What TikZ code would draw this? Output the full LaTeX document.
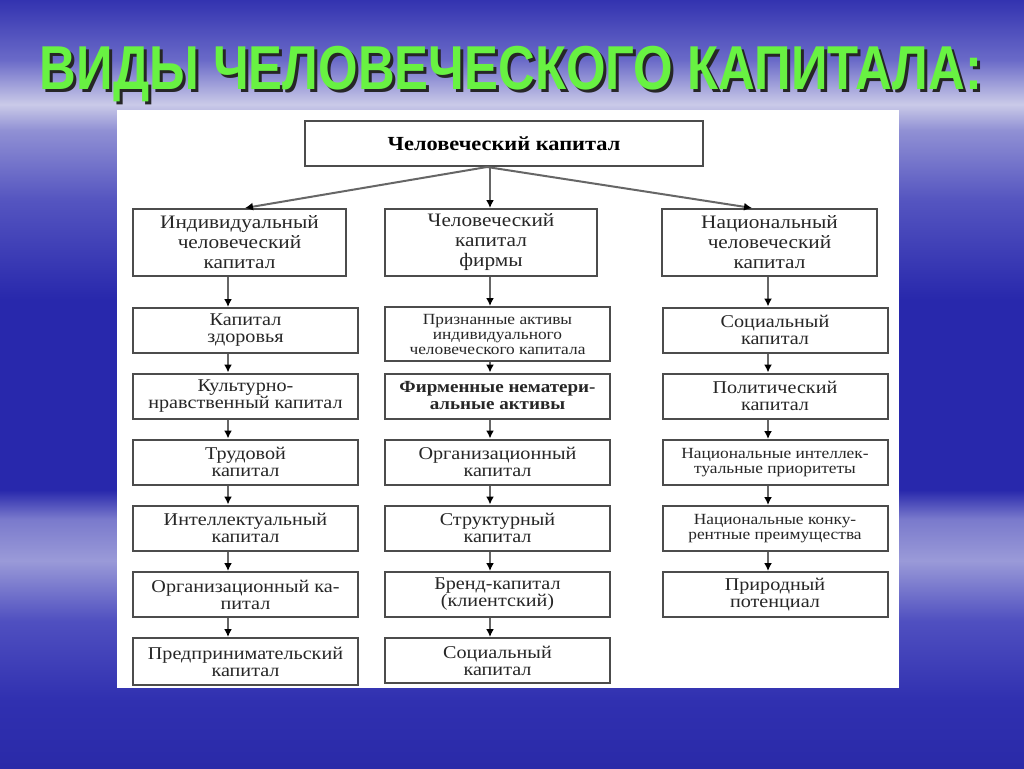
\documentclass[tikz,border=0pt]{standalone}
\usepackage{fontspec}
\setmainfont[FakeStretch=1.12]{Liberation Serif}
\newfontfamily\titlefont[FakeStretch=0.82]{Liberation Sans}
\usepackage{xcolor}
\usetikzlibrary{arrows.meta, positioning, calc}

\definecolor{titlegreen}{RGB}{104,242,66}
\definecolor{skyA}{RGB}{42,42,168}
\definecolor{skyB}{RGB}{48,48,176}
\definecolor{skyC}{RGB}{80,80,192}
\definecolor{skyD}{RGB}{154,154,216}
\definecolor{skyE}{RGB}{122,122,204}
\definecolor{skyF}{RGB}{40,40,172}
\definecolor{skyG}{RGB}{85,85,192}
\definecolor{skyH}{RGB}{144,144,212}
\definecolor{skyI}{RGB}{202,202,232}
\definecolor{skyJ}{RGB}{106,106,200}
\definecolor{skyK}{RGB}{51,51,176}
\pgfdeclareverticalshading{sky}{100bp}{color(0bp)=(skyA); color(25bp)=(skyA);
  color(29.4bp)=(skyB); color(34.6bp)=(skyC); color(38.5bp)=(skyD);
  color(41.2bp)=(skyE); color(43.1bp)=(skyF); color(55.5bp)=(skyF);
  color(62bp)=(skyG); color(66.5bp)=(skyH); color(68.2bp)=(skyI);
  color(71.1bp)=(skyJ); color(75bp)=(skyK); color(100bp)=(skyK)}

\newcommand{\shadowed}[1]{\makebox[0pt][l]{\raisebox{-3pt}{\hspace{3pt}\color{black!85}#1}}#1}

\begin{document}
\begin{tikzpicture}[x=1pt, y=-1pt,
    box/.style={draw=black!70, line width=2pt, fill=white, minimum width=225pt,
      minimum height=45pt, align=center, inner sep=1pt, text=black!85,
      font=\fontsize{18}{17}\selectfont},
    head/.style={box, minimum height=67pt, font=\fontsize{19}{20}\selectfont},
    small/.style={font=\fontsize{15.5}{15}\selectfont},
    arr/.style={draw=black!60, line width=2pt, -{Latex[length=8pt, width=8pt, black]}},
    titletext/.style={font=\titlefont\bfseries\fontsize{62}{62}\selectfont, anchor=base}
  ]
  \useasboundingbox (0,0) rectangle (1024,768);
  \shade[shading=sky] (0,0) rectangle (1024,768);

  % title
  \node[titletext, text=titlegreen] (title) at (511,89) {\shadowed{ВИДЫ ЧЕЛОВЕЧЕСКОГО КАПИТАЛА:}};

  \fill[white] (117,110) rectangle (899,688);

  \node[box, minimum width=398pt, font=\bfseries\fontsize{20}{20}\selectfont, text=black] (hc) at (504,143.5) {Человеческий капитал};

  \node[head, minimum width=213pt] (ind) at (239.5,242.5) {Индивидуальный\\человеческий\\капитал};
  \node[head, minimum width=212pt] (firm) at (491,242.5) {Человеческий\\капитал\\фирмы};
  \node[head, minimum width=215pt] (nat) at (769.5,242.5) {Национальный\\человеческий\\капитал};

  % individual
  \node[box] (ind1) at (245.5,330.5) {Капитал\\здоровья};
  \node[box] (ind2) at (245.5,396) {Культурно-\\нравственный капитал};
  \node[box] (ind3) at (245.5,462) {Трудовой\\капитал};
  \node[box] (ind4) at (245.5,528) {Интеллектуальный\\капитал};
  \node[box] (ind5) at (245.5,594.5) {Организационный ка-\\питал};
  \node[box, minimum height=47pt] (ind6) at (245.5,661.5) {Предпринимательский\\капитал};

  % firm
  \node[box, small, minimum height=54pt] (firm1) at (497.5,334) {Признанные активы\\индивидуального\\человеческого капитала};
  \node[box, font=\bfseries\fontsize{17}{17}\selectfont] (firm2) at (497.5,396) {Фирменные нематери-\\альные активы};
  \node[box] (firm3) at (497.5,462) {Организационный\\капитал};
  \node[box] (firm4) at (497.5,528) {Структурный\\капитал};
  \node[box] (firm5) at (497.5,594.5) {Бренд-капитал\\(клиентский)};
  \node[box] (firm6) at (497.5,660.5) {Социальный\\капитал};

  % national
  \node[box] (nat1) at (775,330) {Социальный\\капитал};
  \node[box] (nat2) at (775,396) {Политический\\капитал};
  \node[box, small] (nat3) at (775,462.5) {Национальные интеллек-\\туальные приоритеты};
  \node[box, small] (nat4) at (775,528.5) {Национальные конку-\\рентные преимущества};
  \node[box] (nat5) at (775,594.5) {Природный\\потенциал};

  \coordinate (indx) at (228,0);
  \coordinate (firmx) at (490,0);
  \coordinate (natx) at (768,0);

  \draw[arr] ([xshift=-17pt]hc.south) -- ([xshift=5.5pt]ind.north);
  \draw[arr] (hc.south -| firmx) -- (firm.north -| firmx);
  \draw[arr] ([xshift=-17pt]hc.south) -- ([xshift=-17.5pt]nat.north);

  \foreach \a/\b in {ind/ind1, ind1/ind2, ind2/ind3, ind3/ind4, ind4/ind5, ind5/ind6}
    \draw[arr] (\a.south -| indx) -- (\b.north -| indx);
  \foreach \a/\b in {firm/firm1, firm1/firm2, firm2/firm3, firm3/firm4, firm4/firm5, firm5/firm6}
    \draw[arr] (\a.south -| firmx) -- (\b.north -| firmx);
  \foreach \a/\b in {nat/nat1, nat1/nat2, nat2/nat3, nat3/nat4, nat4/nat5}
    \draw[arr] (\a.south -| natx) -- (\b.north -| natx);
\end{tikzpicture}
\end{document}
